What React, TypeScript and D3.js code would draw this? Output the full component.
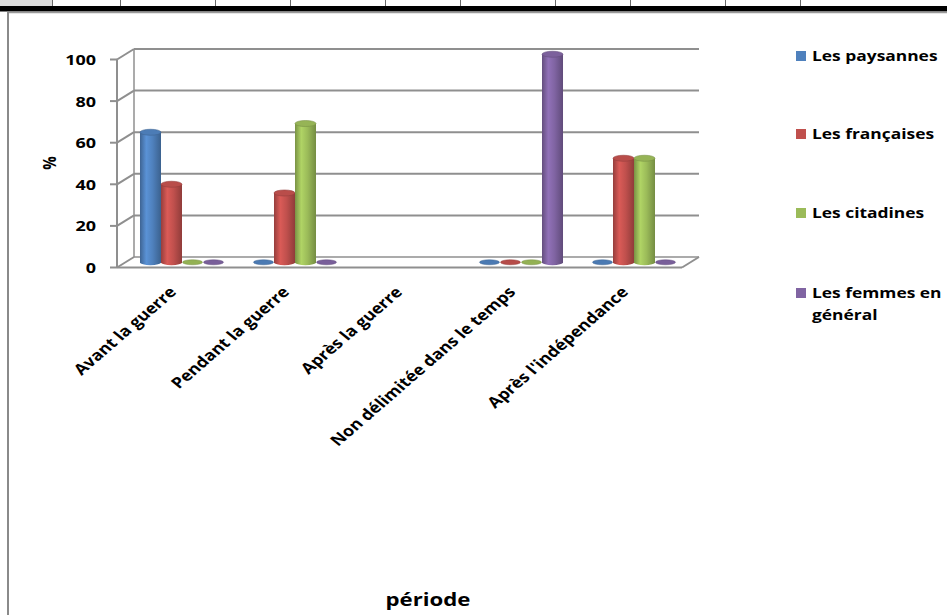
import React from "react";
import * as d3 from "d3";

// Periods (x categories)
const categories = [
  "Avant la guerre",
  "Pendant la guerre",
  "Après la guerre",
  "Non délimitée dans le temps",
  "Après l'indépendance",
];

// Series names (legend)
const seriesNames = [
  "Les paysannes",
  "Les françaises",
  "Les citadines",
  "Les femmes en général",
];

// Values in % per series, one entry per period (null = no data)
const paysannes: (number | null)[] = [62.5, 0, null, 0, 0];
const francaises: (number | null)[] = [37.5, 33.3, null, 0, 50];
const citadines: (number | null)[] = [0, 66.7, null, 0, 50];
const femmesEnGeneral: (number | null)[] = [0, 0, null, 100, 0];

const seriesValues = [paysannes, francaises, citadines, femmesEnGeneral];
const seriesColors = ["#4F81BD", "#C0504D", "#9BBB59", "#8064A2"];

const yTicks = [0, 20, 40, 60, 80, 100];

const FONT = "'Open Sans', sans-serif";
// text is drawn slightly widened horizontally
const SX = 1.2;

const W = 947;
const H = 615;

// 3D plot geometry
const frontLeft = 117;
const frontRight = 682;
const depthX = 17;
const depthY = -10.5;

// Spreadsheet column separators above the chart frame
const columnEdges = [52, 120, 215, 290, 385, 460, 555, 630, 725, 800];

type TProps = {
  x: number;
  y: number;
  size: number;
  anchor?: "start" | "middle" | "end";
  rotate?: number;
  dy?: string;
  children: React.ReactNode;
};

function T({ x, y, size, anchor = "start", rotate = 0, dy, children }: TProps) {
  return (
    <text
      transform={`translate(${x},${y}) scale(${SX},1)${rotate ? ` rotate(${rotate})` : ""}`}
      textAnchor={anchor}
      dy={dy}
      fontFamily={FONT}
      fontWeight={700}
      fontSize={size}
      fill="#000"
    >
      {children}
    </text>
  );
}

export default function App() {
  const y = d3.scaleLinear().domain([0, 100]).range([267.5, 59.5]);
  const x = d3.scaleBand<string>().domain(categories).range([frontLeft, frontRight]);
  const inner = d3
    .scaleBand<string>()
    .domain(seriesNames)
    .range([0, x.bandwidth()])
    .paddingInner(0)
    .paddingOuter(0.69);

  const halfDX = depthX / 2;
  const halfDY = depthY / 2;
  const ry = 3;
  const gridColor = "#8f8f8f";

  return (
    <div style={{ position: "absolute", left: 0, top: 0 }}>
      <svg width={W} height={H} style={{ display: "block", background: "#fff" }}>
        <defs>
          {seriesColors.map((c, i) => {
            const base = d3.color(c)!;
            return (
              <linearGradient key={i} id={`cyl${i}`} x1="0" x2="1" y1="0" y2="0">
                <stop offset="0%" stopColor={base.darker(0.7).formatHex()} />
                <stop offset="30%" stopColor={base.brighter(0.35).formatHex()} />
                <stop offset="60%" stopColor={base.formatHex()} />
                <stop offset="100%" stopColor={base.darker(0.8).formatHex()} />
              </linearGradient>
            );
          })}
        </defs>

        {/* sheet header strip */}
        <rect x={0} y={0} width={W} height={6} fill="#ffffff" />
        <rect x={0} y={0} width={52} height={6} fill="#dcdcdc" />
        {columnEdges.map((cx) => (
          <line key={cx} x1={cx + 0.5} x2={cx + 0.5} y1={0} y2={6} stroke="#6a6a6a" strokeWidth={1} />
        ))}
        <rect x={0} y={6} width={W} height={5.5} fill="#000" />

        {/* chart frame */}
        <line x1={7} x2={W} y1={12.5} y2={12.5} stroke="#9a9a9a" strokeWidth={1.5} />
        <line x1={8} x2={8} y1={12} y2={H} stroke="#8a8a8a" strokeWidth={2} />

        {/* back wall gridlines and side wall edges */}
        {yTicks.map((t) => (
          <g key={t}>
            <line
              x1={frontLeft + depthX}
              x2={frontRight + depthX}
              y1={y(t) + depthY}
              y2={y(t) + depthY}
              stroke={gridColor}
              strokeWidth={t === 0 ? 1.5 : 2}
            />
            <line
              x1={frontLeft}
              x2={frontLeft + depthX}
              y1={y(t)}
              y2={y(t) + depthY}
              stroke={gridColor}
              strokeWidth={2}
            />
            <line x1={frontLeft - 7} x2={frontLeft} y1={y(t)} y2={y(t)} stroke={gridColor} strokeWidth={2} />
          </g>
        ))}
        <line
          x1={frontLeft + depthX}
          x2={frontLeft + depthX}
          y1={y(100) + depthY}
          y2={y(0) + depthY}
          stroke={gridColor}
          strokeWidth={1.5}
        />
        {/* floor */}
        <line x1={frontLeft} x2={frontRight} y1={y(0)} y2={y(0)} stroke={gridColor} strokeWidth={2} />
        <line
          x1={frontRight}
          x2={frontRight + depthX}
          y1={y(0)}
          y2={y(0) + depthY}
          stroke={gridColor}
          strokeWidth={2}
        />
        <line x1={frontLeft} x2={frontLeft} y1={y(100)} y2={y(0)} stroke={gridColor} strokeWidth={2} />

        {/* cylinders */}
        {categories.map((cat, ci) =>
          seriesNames.map((s, si) => {
            const v = seriesValues[si][ci];
            if (v === null) return null;
            const x0 = x(cat)! + inner(s)! + halfDX;
            const w = inner.bandwidth();
            const rx = w / 2;
            const cx = x0 + rx;
            const yBase = y(0) + halfDY;
            const base = d3.color(seriesColors[si])!;
            if (v === 0) {
              return (
                <ellipse
                  key={`${ci}-${si}`}
                  cx={cx}
                  cy={yBase}
                  rx={rx - 0.5}
                  ry={2.5}
                  fill={base.darker(0.15).formatHex()}
                  stroke={base.darker(0.8).formatHex()}
                  strokeWidth={0.5}
                />
              );
            }
            const yTop = y(v) + halfDY;
            const body = `M${x0},${yTop} L${x0},${yBase} A${rx},${ry} 0 0 0 ${x0 + w},${yBase} L${x0 + w},${yTop} Z`;
            return (
              <g key={`${ci}-${si}`}>
                <path d={body} fill={`url(#cyl${si})`} />
                <ellipse
                  cx={cx}
                  cy={yTop}
                  rx={rx}
                  ry={ry}
                  fill={base.darker(0.1).formatHex()}
                  stroke={base.darker(0.7).formatHex()}
                  strokeWidth={0.6}
                />
              </g>
            );
          })
        )}

        {/* y axis labels */}
        {yTicks.map((t) => (
          <T key={t} x={96} y={y(t)} dy="0.36em" anchor="end" size={15}>
            {t}
          </T>
        ))}
        <T x={50} y={163} dy="0.36em" anchor="middle" rotate={-90} size={15}>
          %
        </T>

        {/* category labels */}
        {categories.map((cat) => (
          <T key={cat} x={x(cat)! + x.bandwidth() / 2 + 4} y={293} anchor="end" rotate={-46} size={15}>
            {cat}
          </T>
        ))}

        <T x={428} y={599} dy="0.36em" anchor="middle" size={18.5}>
          période
        </T>

        {/* legend */}
        {seriesNames.map((s, i) => {
          const cy = [56, 134, 213, 293][i];
          const lines = s === "Les femmes en général" ? ["Les femmes en", "général"] : [s];
          return (
            <g key={s}>
              <rect x={796} y={cy - 5} width={10} height={10} fill={seriesColors[i]} />
              {lines.map((line, li) => (
                <T key={li} x={812} y={cy + li * 22} dy="0.36em" size={14.5}>
                  {line}
                </T>
              ))}
            </g>
          );
        })}
      </svg>
    </div>
  );
}
